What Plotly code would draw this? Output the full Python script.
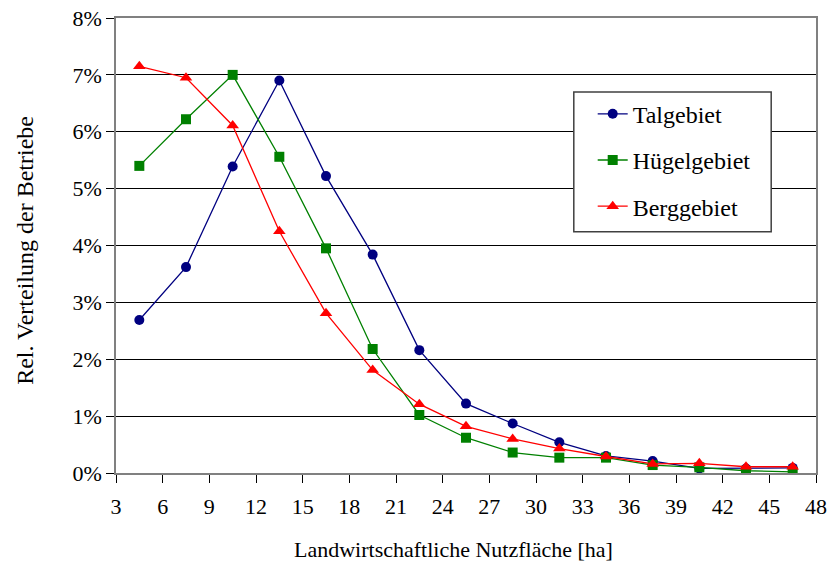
import plotly.graph_objects as go

x_ha = [4.5, 7.5, 10.5, 13.5, 16.5, 19.5, 22.5, 25.5, 28.5, 31.5, 34.5, 37.5, 40.5, 43.5, 46.5]
talgebiet = [2.69, 3.62, 5.39, 6.90, 5.22, 3.84, 2.16, 1.22, 0.87, 0.54, 0.30, 0.21, 0.08, 0.08, 0.09]
huegelgebiet = [5.40, 6.22, 7.00, 5.56, 3.95, 2.18, 1.02, 0.62, 0.36, 0.27, 0.27, 0.14, 0.10, 0.04, 0.02]
berggebiet = [7.15, 6.95, 6.11, 4.25, 2.81, 1.81, 1.21, 0.82, 0.60, 0.43, 0.29, 0.16, 0.17, 0.11, 0.11]

series_names = ["Talgebiet", "Hügelgebiet", "Berggebiet"]
series_values = [talgebiet, huegelgebiet, berggebiet]
colors = ["#000080", "#008000", "#FF0000"]
symbols = ["circle", "square", "triangle-up"]
sizes = [10, 10, 11]

FONT = "Times New Roman, Liberation Serif, serif"

fig = go.Figure()
for i, (name, vals) in enumerate(zip(series_names, series_values)):
    fig.add_trace(go.Scatter(
        x=x_ha, y=vals, name=name, mode="lines+markers",
        legendgroup=f"g{i}",
        line=dict(color=colors[i], width=1.3),
        marker=dict(symbol=symbols[i], size=sizes[i], color=colors[i]),
    ))

# legend frame drawn as a shape (white fill covers gridlines)
fig.add_shape(
    type="rect", xref="paper", yref="paper",
    x0=0.654, x1=0.936, y0=0.530, y1=0.8375,
    fillcolor="white", line=dict(color="#404040", width=1.5), layer="above",
)

fig.update_layout(
    width=830, height=561,
    margin=dict(l=116, r=14, t=18, b=88),
    paper_bgcolor="white", plot_bgcolor="white",
    font=dict(family=FONT, size=22, color="black"),
    showlegend=True,
    legend=dict(
        x=0.681, y=0.838, xanchor="left", yanchor="top",
        bgcolor="rgba(0,0,0,0)", borderwidth=0,
        font=dict(family=FONT, size=24),
        traceorder="grouped", tracegroupgap=12,
        itemwidth=30,
    ),
)
fig.update_xaxes(
    range=[3, 48], tick0=3, dtick=3, automargin=False,
    showline=True, linecolor="#808080", linewidth=1.5, mirror=True,
    ticks="outside", ticklen=8, tickcolor="black", tickwidth=1,
    showgrid=False, zeroline=False, ticklabelstandoff=5,
    tickfont=dict(family=FONT, size=22),
)
fig.update_yaxes(
    range=[0, 8], tick0=0, dtick=1, ticksuffix="%", automargin=False,
    showline=True, linecolor="#808080", linewidth=1.5, mirror=True,
    ticks="outside", ticklen=8, tickcolor="black", tickwidth=1,
    showgrid=True, gridcolor="black", gridwidth=1, zeroline=False,
    tickfont=dict(family=FONT, size=22),
)
fig.add_annotation(
    text="Landwirtschaftliche Nutzfläche [ha]", xref="paper", yref="paper",
    x=(453 - 116) / 700, y=-(549 - 473) / 455, xanchor="center", yanchor="middle",
    showarrow=False, font=dict(family=FONT, size=22),
)
fig.add_annotation(
    text="Rel. Verteilung der Betriebe", xref="paper", yref="paper",
    x=-(116 - 25) / 700, y=(473.3 - 251) / 455.3, xanchor="center", yanchor="middle",
    textangle=-90, showarrow=False, font=dict(family=FONT, size=24),
)

fig.write_html("out.html")
